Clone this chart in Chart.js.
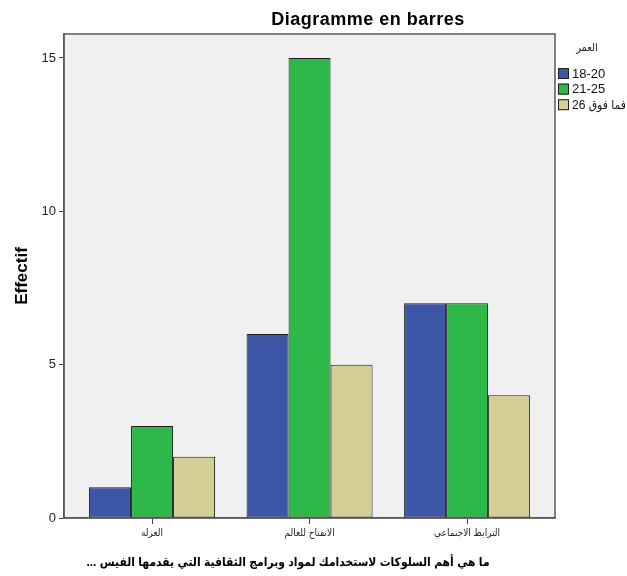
<!DOCTYPE html>
<html>
<head>
<meta charset="utf-8">
<script src="https://cdn.jsdelivr.net/npm/chart.js@4.4.1/dist/chart.umd.min.js"></script>
<style>
  html, body { margin: 0; padding: 0; background: #ffffff; }
  #wrap { width: 627px; height: 576px; }
</style>
</head>
<body>
<div id="wrap"><canvas id="c" width="627" height="576"></canvas></div>
<script>
// Answers to the question, one per group of bars
const categories = ['العزلة', 'الانفتاح للعالم', 'الترابط الاجتماعي'];
// Age groups (العمر)
const ageGroups = ['18-20', '21-25', '26 فما فوق'];
// Counts per answer for each age group
const age18to20 = [1, 6, 7];
const age21to25 = [3, 15, 7];
const age26plus = [2, 5, 4];
// Value axis tick labels
const yTicks = [0, 5, 10, 15];

const chartTitle = 'Diagramme en barres';
const legendTitle = 'العمر';
const xTitle = 'ما هي أهم السلوكات لاستخدامك لمواد وبرامج الثقافية التي يقدمها الفيس ...\u200F';
const yTitle = 'Effectif';

const seriesColors = ['#3e56a8', '#2fb84a', '#d5cf97'];
const FONT = '"Liberation Sans", Arial, "DejaVu Sans Condensed", sans-serif';

const series = [age18to20, age21to25, age26plus];
const datasets = series.map((vals, k) => ({
  label: ageGroups[k],
  data: vals.map((v, i) => ({ x: i + 1, y: v })),
  backgroundColor: seriesColors[k],
  borderColor: '#1e1e1e',
  borderWidth: 1,
  borderSkipped: false
}));

// Grey plot background and frame around the plot area
const framePlugin = {
  id: 'frame',
  beforeDraw(chart) {
    const { ctx, chartArea: a } = chart;
    ctx.save();
    ctx.fillStyle = '#f0f0f0';
    ctx.fillRect(a.left, a.top, a.right - a.left, a.bottom - a.top);
    ctx.restore();
  },
  afterDraw(chart) {
    const { ctx, chartArea: a } = chart;
    ctx.save();
    ctx.strokeStyle = '#5a5a5a';
    ctx.lineWidth = 1.5;
    ctx.strokeRect(a.left, a.top, a.right - a.left, a.bottom - a.top);
    ctx.restore();
  }
};

// Chart heading above the plot and the axis caption below it
const captionsPlugin = {
  id: 'captions',
  afterDraw(chart) {
    const { ctx } = chart;
    ctx.save();
    ctx.fillStyle = '#000';
    ctx.textAlign = 'center';
    ctx.textBaseline = 'alphabetic';
    ctx.font = 'bold 18px ' + FONT;
    ctx.letterSpacing = '0.5px';
    ctx.fillText(chartTitle, 368, 25);
    ctx.letterSpacing = '0px';
    ctx.font = 'bold 12px ' + FONT;
    ctx.textBaseline = 'middle';
    ctx.fillText(xTitle, 288, 563);
    ctx.restore();
  }
};

// Legend to the right of the plot, built from the datasets
const sideLegendPlugin = {
  id: 'sideLegend',
  afterDraw(chart) {
    const { ctx, chartArea: a } = chart;
    const x0 = a.right + 3;
    ctx.save();
    ctx.fillStyle = '#222';
    ctx.font = '11px ' + FONT;
    ctx.textAlign = 'center';
    ctx.textBaseline = 'middle';
    ctx.fillText(legendTitle, 587, 48);
    ctx.textAlign = 'left';
    ctx.direction = 'ltr';
    chart.data.datasets.forEach((ds, i) => {
      const y = 68 + i * 15.6;
      ctx.fillStyle = ds.backgroundColor;
      ctx.fillRect(x0, y, 11, 11);
      ctx.strokeStyle = '#1e1e1e';
      ctx.lineWidth = 1;
      ctx.strokeRect(x0 + 0.5, y + 0.5, 10, 10);
      ctx.fillStyle = '#111';
      ctx.font = (/[\u0600-\u06FF]/.test(ds.label) ? '12px ' : '13px ') + FONT;
      ctx.fillText('\u200E' + ds.label, x0 + 14, y + 6);
    });
    ctx.restore();
  }
};

new Chart(document.getElementById('c'), {
  type: 'bar',
  data: { datasets },
  options: {
    responsive: false,
    animation: false,
    devicePixelRatio: 1,
    layout: { padding: { left: 0, top: 34, right: 72, bottom: 0 } },
    datasets: { bar: { categoryPercentage: 0.8, barPercentage: 1 } },
    plugins: {
      legend: { display: false },
      tooltip: { enabled: false }
    },
    scales: {
      x: {
        type: 'linear',
        min: 0.441,
        max: 3.558,
        offset: false,
        afterFit(s) { s.height = 58; },
        ticks: {
          stepSize: 1,
          includeBounds: false,
          autoSkip: false,
          maxRotation: 0,
          padding: 3,
          color: '#222',
          font: { size: 10, family: FONT },
          callback: v => categories[v - 1] ?? ''
        },
        grid: { offset: false, drawOnChartArea: false, drawTicks: true, tickLength: 6, color: '#444', lineWidth: 1 },
        border: { display: true, color: '#5a5a5a', width: 1.5 },
        title: { display: false, text: xTitle }
      },
      y: {
        min: 0,
        max: 15.78,
        afterFit(s) { s.width = 64; },
        afterBuildTicks(s) { s.ticks = yTicks.map(v => ({ value: v })); },
        ticks: {
          padding: 3,
          color: '#222',
          font: { size: 13, family: FONT }
        },
        grid: { drawOnChartArea: false, drawTicks: true, tickLength: 5, color: '#444', lineWidth: 1 },
        border: { display: true, color: '#5a5a5a', width: 1.5 },
        title: {
          display: true,
          text: yTitle,
          color: '#000',
          font: { size: 17, weight: 'bold', family: FONT },
          padding: { top: 12, bottom: 0 }
        }
      }
    }
  },
  plugins: [framePlugin, captionsPlugin, sideLegendPlugin]
});
</script>
</body>
</html>
